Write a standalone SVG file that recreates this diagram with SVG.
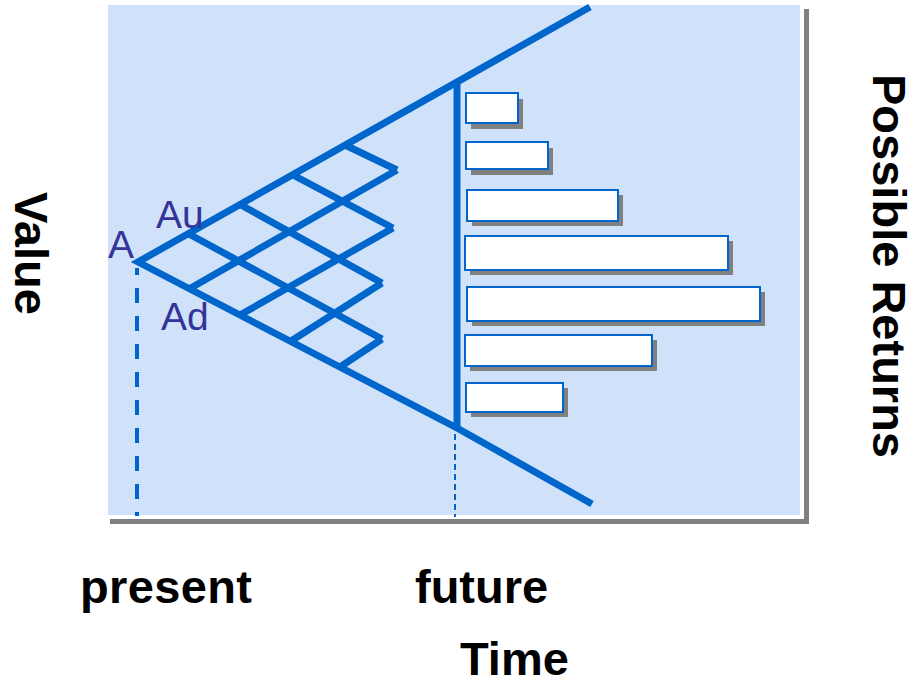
<svg xmlns="http://www.w3.org/2000/svg" width="923" height="685" viewBox="0 0 923 685">
  <defs>
    <style>
      .lat { fill: none; stroke: #0066CC; stroke-width: 7; stroke-linecap: butt; stroke-linejoin: miter; }
      .bar { fill: #FFFFFF; stroke: #0066CC; stroke-width: 2; }
      .shadow { fill: #808080; }
      .node-lbl { font-family: "Liberation Sans", Arial, sans-serif; font-size: 39px; fill: #333399; }
      .axis-lbl { font-family: "Liberation Sans", Arial, sans-serif; font-size: 47px; font-weight: bold; fill: #000000; }
    </style>
  </defs>

  <!-- plot panel with white rim and drop shadow -->
  <g id="panel">
    <rect x="110" y="9" width="699" height="515" fill="#808080"/>
    <rect x="108" y="5" width="696" height="514" fill="#FFFFFF"/>
    <rect x="108" y="5" width="692" height="510" fill="#D0E2F9"/>
  </g>

  <!-- time markers -->
  <g id="time-markers">
    <line x1="137" y1="268" x2="137" y2="516" stroke="#0066CC" stroke-width="4" stroke-dasharray="15 13" stroke-dashoffset="8"/>
    <line x1="455" y1="434" x2="455" y2="517" stroke="#0066CC" stroke-width="2" stroke-dasharray="6 4"/>
  </g>

  <!-- binomial lattice and outcome cone -->
  <g id="connectors">
    <polyline class="lat" points="590,7 138,262 457,428 592,504"/>
    <line class="lat" x1="457" y1="82" x2="457" y2="429"/>
    <!-- up-moves -->
    <line class="lat" x1="189" y1="289" x2="397" y2="170"/>
    <line class="lat" x1="240" y1="315" x2="393" y2="228"/>
    <line class="lat" x1="291" y1="341" x2="382" y2="283"/>
    <line class="lat" x1="340" y1="367" x2="382" y2="339"/>
    <!-- down-moves -->
    <line class="lat" x1="189" y1="234" x2="382" y2="339"/>
    <line class="lat" x1="241" y1="205" x2="382" y2="283"/>
    <line class="lat" x1="293" y1="175" x2="393" y2="228"/>
    <line class="lat" x1="345" y1="145" x2="397" y2="170"/>
  </g>

  <g id="node-A"><text class="node-lbl" x="108" y="258">A</text></g>
  <g id="node-Au"><text class="node-lbl" x="156" y="228">Au</text></g>
  <g id="node-Ad"><text class="node-lbl" x="161" y="330">Ad</text></g>

  <!-- distribution of possible returns -->
  <g id="returns">
    <g id="bar-1"><rect class="shadow" x="471" y="99" width="52" height="30"/><rect class="bar" x="466" y="93" width="52" height="30"/></g>
    <g id="bar-2"><rect class="shadow" x="471" y="148" width="82" height="27"/><rect class="bar" x="466" y="142" width="82" height="27"/></g>
    <g id="bar-3"><rect class="shadow" x="472" y="195" width="151" height="31"/><rect class="bar" x="467" y="190" width="151" height="31"/></g>
    <g id="bar-4"><rect class="shadow" x="470" y="241" width="263" height="34"/><rect class="bar" x="465" y="236" width="263" height="34"/></g>
    <g id="bar-5"><rect class="shadow" x="472" y="292" width="293" height="34"/><rect class="bar" x="467" y="287" width="293" height="34"/></g>
    <g id="bar-6"><rect class="shadow" x="470" y="340" width="187" height="31"/><rect class="bar" x="465" y="335" width="187" height="31"/></g>
    <g id="bar-7"><rect class="shadow" x="471" y="388" width="97" height="29"/><rect class="bar" x="466" y="383" width="97" height="29"/></g>
  </g>

  <!-- axis captions -->
  <g id="labels">
    <text class="axis-lbl" transform="translate(15,192) rotate(90)">Value</text>
    <text class="axis-lbl" transform="translate(873,74) rotate(90)" textLength="384">Possible Returns</text>
    <text class="axis-lbl" x="80" y="603" textLength="172">present</text>
    <text class="axis-lbl" x="415" y="603">future</text>
    <text class="axis-lbl" x="460" y="675">Time</text>
  </g>
</svg>
